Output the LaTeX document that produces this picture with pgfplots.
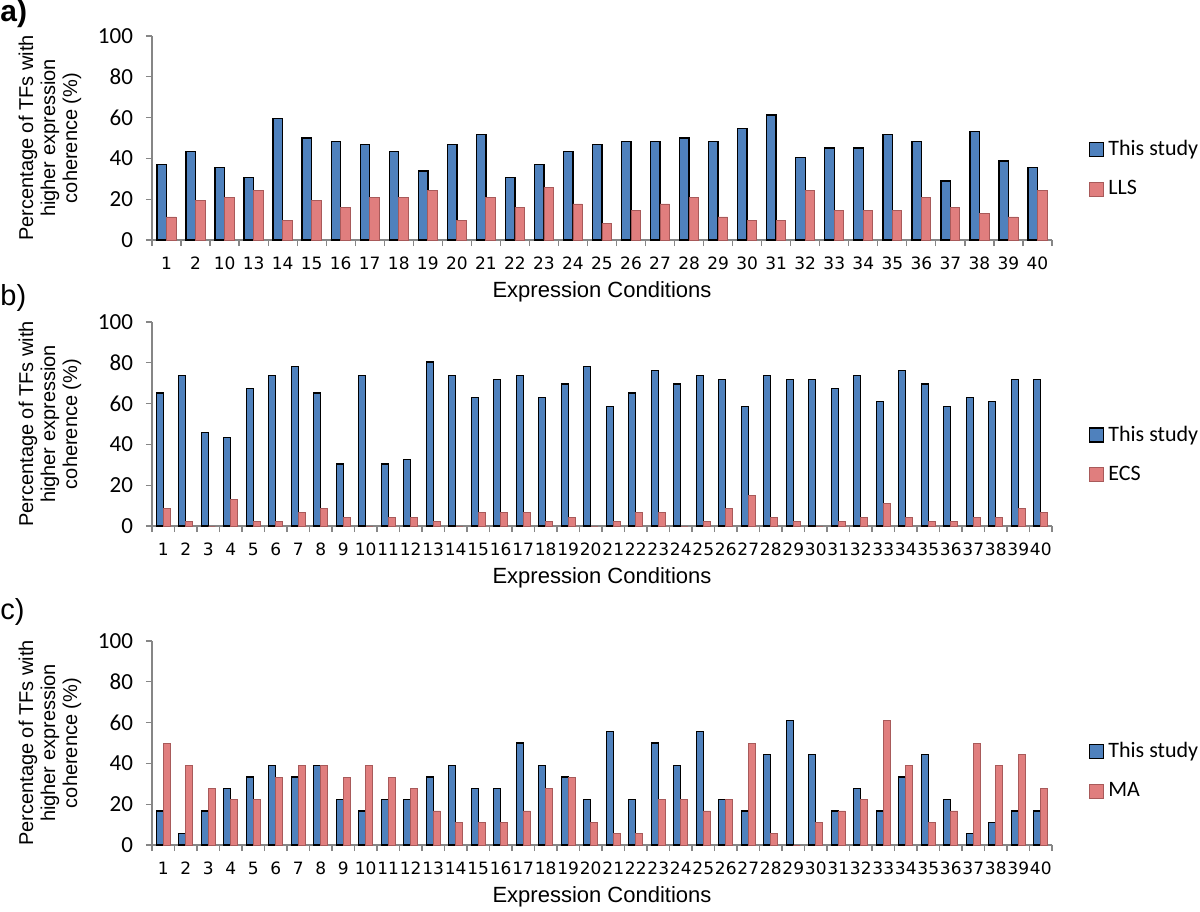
\documentclass[border=0pt]{standalone}
\usepackage{pgfplots}
\pgfplotsset{compat=1.18}
\usepackage{pgfplotstable}
\usepackage{fontspec}
\setmainfont{Liberation Sans}
\newfontfamily\calib{Carlito}
\newfontfamily\djv{DejaVu Sans}

\definecolor{barblue}{HTML}{4F81BD}
\definecolor{barred}{HTML}{E07E7E}
\definecolor{redge}{HTML}{A85A5A}
\definecolor{axgray}{HTML}{868686}

% panel a: conditions 1,2,10,13,14..40 plotted at positions 1..31
\pgfplotstableread{
pos cond study lls
1  1  37.1 11.3
2  2  43.5 19.4
3  10 35.5 21.0
4  13 30.6 24.2
5  14 59.7 9.7
6  15 50.0 19.4
7  16 48.4 16.1
8  17 46.8 21.0
9  18 43.5 21.0
10 19 33.9 24.2
11 20 46.8 9.7
12 21 51.6 21.0
13 22 30.6 16.1
14 23 37.1 25.8
15 24 43.5 17.7
16 25 46.8 8.1
17 26 48.4 14.5
18 27 48.4 17.7
19 28 50.0 21.0
20 29 48.4 11.3
21 30 54.8 9.7
22 31 61.3 9.7
23 32 40.3 24.2
24 33 45.2 14.5
25 34 45.2 14.5
26 35 51.6 14.5
27 36 48.4 21.0
28 37 29.0 16.1
29 38 53.2 12.9
30 39 38.7 11.3
31 40 35.5 24.2
}\tablea

\pgfplotstableread{
cond study ecs
1  65.2 8.7
2  73.9 2.2
3  45.7 0
4  43.5 13.0
5  67.4 2.2
6  73.9 2.2
7  78.3 6.5
8  65.2 8.7
9  30.4 4.3
10 73.9 0
11 30.4 4.3
12 32.6 4.3
13 80.4 2.2
14 73.9 0
15 63.0 6.5
16 71.7 6.5
17 73.9 6.5
18 63.0 2.2
19 69.6 4.3
20 78.3 0
21 58.7 2.2
22 65.2 6.5
23 76.1 6.5
24 69.6 0
25 73.9 2.2
26 71.7 8.7
27 58.7 15.2
28 73.9 4.3
29 71.7 2.2
30 71.7 0
31 67.4 2.2
32 73.9 4.3
33 60.9 10.9
34 76.1 4.3
35 69.6 2.2
36 58.7 2.2
37 63.0 4.3
38 60.9 4.3
39 71.7 8.7
40 71.7 6.5
}\tableb

\pgfplotstableread{
cond study ma
1  16.7 50.0
2  5.6  38.9
3  16.7 27.8
4  27.8 22.2
5  33.3 22.2
6  38.9 33.3
7  33.3 38.9
8  38.9 38.9
9  22.2 33.3
10 16.7 38.9
11 22.2 33.3
12 22.2 27.8
13 33.3 16.7
14 38.9 11.1
15 27.8 11.1
16 27.8 11.1
17 50.0 16.7
18 38.9 27.8
19 33.3 33.3
20 22.2 11.1
21 55.6 5.6
22 22.2 5.6
23 50.0 22.2
24 38.9 22.2
25 55.6 16.7
26 22.2 22.2
27 16.7 50.0
28 44.4 5.6
29 61.1 0
30 44.4 11.1
31 16.7 16.7
32 27.8 22.2
33 16.7 61.1
34 33.3 38.9
35 44.4 11.1
36 22.2 16.7
37 5.6  50.0
38 11.1 38.9
39 16.7 44.4
40 16.7 27.8
}\tablec

\pgfplotsset{
  panel/.style={
    scale only axis, width=450pt, height=102pt,
    anchor=south west,
    ymin=0, ymax=100, ytick={0,20,...,100},
    axis x line=bottom, axis y line=left,
    axis line style={-, axgray, line width=0.6pt},
    tick align=outside,
    major tick length=3pt, minor tick length=3pt,
    tick style={axgray, line width=0.6pt},
    major x tick style={draw=none},
    /pgf/number format/assume math mode=true,
    yticklabel style={font=\calib\fontsize{11.5}{12}\selectfont, text=black, xshift=-3pt},
    xticklabel style={font=\djv\fontsize{8.5}{10}\selectfont, text=black, yshift=-2pt},
    ylabel={Percentage of TFs with\\higher expression\\coherence (\%)},
    ylabel style={align=center, font=\fontsize{10}{11}\selectfont,
      at={(axis description cs:-0.1133,0.5)}, anchor=center},
    xlabel={Expression Conditions},
    xlabel style={font=\fontsize{11}{13}\selectfont,
      at={(axis description cs:0.5,-0.255)}, anchor=center},
    ybar=0pt,
    legend style={draw=none, fill=none, anchor=west,
      font=\calib\fontsize{11}{13}\selectfont, row sep=7pt},
    legend cell align=left,
    clip=false,
  },
  sq legend/.style={legend image code/.code={\draw[##1] (0pt,-3.5pt) rectangle (7pt,3.5pt);}},
  blue bars/.style={fill=barblue, draw=black, line width=0.7pt, sq legend},
  red bars/.style={fill=barred, draw=redge, line width=0.4pt, sq legend},
}

\begin{document}
\begin{tikzpicture}
\useasboundingbox (0,0) rectangle (600pt,-455.5pt);

\node[anchor=west, inner sep=0pt, font=\bfseries\fontsize{15}{17}\selectfont] at (0pt,-7pt) {a)};
\node[anchor=west, inner sep=0pt, font=\fontsize{14.5}{16}\selectfont] at (0pt,-149pt) {b)};
\node[anchor=west, inner sep=0pt, font=\fontsize{14.5}{16}\selectfont] at (0pt,-306pt) {c)};

% a) This study vs LLS
\begin{axis}[panel, at={(76pt,-120pt)},
    xmin=0.5, xmax=31.5, xtick={1,...,31},
    xticklabels={1,2,10,13,14,15,16,17,18,19,20,21,22,23,24,25,26,27,28,29,30,31,32,33,34,35,36,37,38,39,40},
    minor xtick={0.5,1.5,...,31.5},
    bar width=4.75pt,
    legend style={at={(1.034,0.348)}}]
  \addplot[blue bars] table[x=pos, y=study] {\tablea};
  \addplot[red bars] table[x=pos, y=lls] {\tablea};
  \legend{This study, LLS}
\end{axis}

% b) This study vs ECS
\begin{axis}[panel, at={(76pt,-263pt)},
    xmin=0.5, xmax=40.5, xtick={1,...,40},
    minor xtick={0.5,1.5,...,40.5},
    bar width=3.5pt,
    legend style={at={(1.034,0.35)}}]
  \addplot[blue bars] table[x=cond, y=study] {\tableb};
  \addplot[red bars] table[x=cond, y=ecs] {\tableb};
  \legend{This study, ECS}
\end{axis}

% c) This study vs MA
\begin{axis}[panel, at={(76pt,-422.5pt)},
    xmin=0.5, xmax=40.5, xtick={1,...,40},
    minor xtick={0.5,1.5,...,40.5},
    bar width=3.5pt,
    legend style={at={(1.034,0.363)}}]
  \addplot[blue bars] table[x=cond, y=study] {\tablec};
  \addplot[red bars] table[x=cond, y=ma] {\tablec};
  \legend{This study, MA}
\end{axis}
\end{tikzpicture}
\end{document}
